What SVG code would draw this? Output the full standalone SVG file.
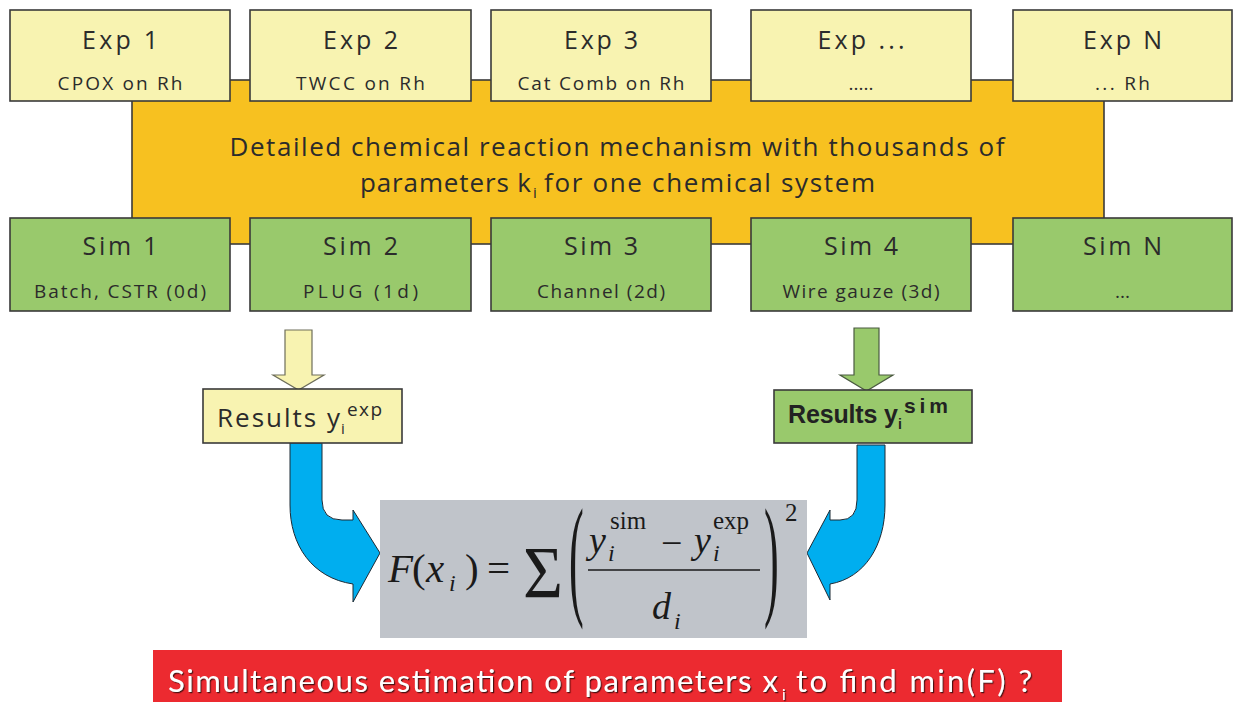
<svg xmlns="http://www.w3.org/2000/svg" width="1234" height="702" viewBox="0 0 1234 702">
<defs>
<style>
.exp{fill:#f8f3b1;stroke:#3a3a3a;stroke-width:1.6}
.sim{fill:#99c96c;stroke:#3a3a3a;stroke-width:1.6}
.t{font-family:"Open Sans","Noto Sans","Liberation Sans",sans-serif;fill:#2b2b2b;text-anchor:middle}
.title{font-size:25px}
.sub{font-size:19px}
.m{font-family:"Liberation Serif","Times New Roman",serif;fill:#1a1a1a}
.it{font-style:italic}
.blue{fill:#00aeef;stroke:#1d2a35;stroke-width:1}
</style>
<filter id="sh" x="-5%" y="-20%" width="110%" height="140%">
<feDropShadow dx="1.2" dy="1.2" stdDeviation="0.6" flood-color="#3a1010" flood-opacity="0.9"/>
</filter>
</defs>
<rect width="1234" height="702" fill="#ffffff"/>

<g id="mechanism">
<rect x="132" y="80" width="972" height="164" fill="#f7c120" stroke="#3a3a3a" stroke-width="1.6"/>
<text class="t" x="617" y="156" font-size="26" textLength="775" lengthAdjust="spacing">Detailed chemical reaction mechanism with thousands of</text>
<text class="t" x="360" y="192" font-size="26" style="text-anchor:start" textLength="171" lengthAdjust="spacing">parameters k</text>
<text class="t" x="533" y="198" font-size="15" style="text-anchor:start">i</text>
<text class="t" x="544" y="192" font-size="26" style="text-anchor:start" textLength="331" lengthAdjust="spacing">for one chemical system</text>
</g>

<g id="exp1"><rect class="exp" x="10" y="10" width="220" height="91"/>
<text class="t title" x="120" y="49" textLength="76" lengthAdjust="spacing">Exp 1</text>
<text class="t sub" x="120" y="90" textLength="125" lengthAdjust="spacing">CPOX on Rh</text></g>
<g id="exp2"><rect class="exp" x="250" y="10" width="221" height="91"/>
<text class="t title" x="360.5" y="49" textLength="75" lengthAdjust="spacing">Exp 2</text>
<text class="t sub" x="360.5" y="90" textLength="129" lengthAdjust="spacing">TWCC on Rh</text></g>
<g id="exp3"><rect class="exp" x="491" y="10" width="220" height="91"/>
<text class="t title" x="601" y="49" textLength="74" lengthAdjust="spacing">Exp 3</text>
<text class="t sub" x="601" y="90" textLength="167" lengthAdjust="spacing">Cat Comb on Rh</text></g>
<g id="expdots"><rect class="exp" x="751" y="10" width="220" height="91"/>
<text class="t title" x="861" y="49" textLength="87" lengthAdjust="spacing">Exp ...</text>
<text class="t sub" x="861" y="90">.....</text></g>
<g id="expN"><rect class="exp" x="1013" y="10" width="219" height="91"/>
<text class="t title" x="1122.5" y="49" textLength="79" lengthAdjust="spacing">Exp N</text>
<text class="t sub" x="1122.5" y="90" textLength="55" lengthAdjust="spacing">... Rh</text></g>

<g id="sim1"><rect class="sim" x="10" y="218" width="220" height="93"/>
<text class="t title" x="120" y="255" textLength="75" lengthAdjust="spacing">Sim 1</text>
<text class="t sub" x="120" y="298" textLength="172" lengthAdjust="spacing">Batch, CSTR (0d)</text></g>
<g id="sim2"><rect class="sim" x="250" y="218" width="221" height="93"/>
<text class="t title" x="360.5" y="255" textLength="75" lengthAdjust="spacing">Sim 2</text>
<text class="t sub" x="360.5" y="298" textLength="115" lengthAdjust="spacing">PLUG (1d)</text></g>
<g id="sim3"><rect class="sim" x="491" y="218" width="220" height="93"/>
<text class="t title" x="601" y="255" textLength="74" lengthAdjust="spacing">Sim 3</text>
<text class="t sub" x="601" y="298" textLength="128" lengthAdjust="spacing">Channel (2d)</text></g>
<g id="sim4"><rect class="sim" x="751" y="218" width="220" height="93"/>
<text class="t title" x="861" y="255" textLength="74" lengthAdjust="spacing">Sim 4</text>
<text class="t sub" x="861" y="298" textLength="157" lengthAdjust="spacing">Wire gauze (3d)</text></g>
<g id="simN"><rect class="sim" x="1013" y="218" width="219" height="93"/>
<text class="t title" x="1122.5" y="255" textLength="79" lengthAdjust="spacing">Sim N</text>
<text class="t sub" x="1122.5" y="298">...</text></g>

<g id="connectors">
<polygon points="285,330 312,330 312,375 324,375 298.5,390 273,375 285,375" fill="#f8f3b1" stroke="#6e6e5a" stroke-width="1.2"/>
<polygon points="854,328 879,328 879,375 893,375 866.5,391 840,375 854,375" fill="#99c96c" stroke="#4a5a40" stroke-width="1.2"/>
<path class="blue" d="M290,443 L322,443 L322,500 Q322,520 342,520 L353,520 L353,510 L380,553 L353,602 L353,584 C312,578 290,545 290,505 Z"/>
<path class="blue" d="M857,445 L885,445 L885,505 C885,545 865,578 830,584 L830,600 L807,553 L830,510 L830,520 L840,520 Q857,520 857,500 Z"/>
</g>

<g id="results_exp">
<rect x="203" y="389" width="199" height="54" fill="#f8f3b1" stroke="#3a3a3a" stroke-width="1.6"/>
<text class="t" x="217" y="427" font-size="26" style="text-anchor:start" textLength="123" lengthAdjust="spacing">Results y</text>
<text class="t" x="341" y="434" font-size="15" style="text-anchor:start">i</text>
<text class="t" x="347" y="416" font-size="19" style="text-anchor:start" textLength="35" lengthAdjust="spacing">exp</text>
</g>

<g id="results_sim">
<rect x="774" y="390" width="198" height="53" fill="#99c96c" stroke="#3a3a3a" stroke-width="1.6"/>
<text x="788" y="423" font-family="Liberation Sans, Arial, sans-serif" font-weight="bold" font-size="25" fill="#222" textLength="110" lengthAdjust="spacing">Results y</text>
<text x="898" y="429" font-family="Liberation Sans, Arial, sans-serif" font-weight="bold" font-size="14" fill="#222">i</text>
<text x="904" y="413" font-family="Liberation Sans, Arial, sans-serif" font-weight="bold" font-size="21" fill="#222" textLength="44" lengthAdjust="spacing">sim</text>
</g>

<g id="formula">
<rect x="380" y="500" width="427" height="138" fill="#c0c4ca"/>
<text class="m" x="388" y="582" font-size="41"><tspan class="it">F</tspan><tspan x="412">(</tspan><tspan class="it" x="426">x</tspan></text>
<text class="m it" x="449" y="591" font-size="24">i</text>
<text class="m" x="465" y="582" font-size="41">)</text>
<text class="m" x="487" y="582" font-size="41">=</text>
<text class="m" x="523" y="598" font-size="74" textLength="40" lengthAdjust="spacingAndGlyphs">Σ</text>
<text class="m" font-size="134" transform="translate(569,601) scale(0.33,1)">(</text>
<text class="m" font-size="134" transform="translate(764,601) scale(0.33,1)">)</text>
<text class="m it" x="589" y="553" font-size="38">y</text>
<text class="m it" x="608" y="561" font-size="24">i</text>
<text class="m" x="610" y="529" font-size="25">sim</text>
<text class="m" x="661" y="556" font-size="38">−</text>
<text class="m it" x="694" y="553" font-size="38">y</text>
<text class="m it" x="713" y="561" font-size="24">i</text>
<text class="m" x="713" y="529" font-size="25">exp</text>
<line x1="588" y1="570" x2="760" y2="570" stroke="#1a1a1a" stroke-width="1.6"/>
<text class="m it" x="652" y="619" font-size="38">d</text>
<text class="m it" x="674" y="629" font-size="24">i</text>
<text class="m" x="785" y="521" font-size="25">2</text>
</g>

<g id="conclusion">
<rect x="153" y="650" width="909" height="52" fill="#ec2a30"/>
<g filter="url(#sh)" font-family="Lato, Open Sans, Liberation Sans, sans-serif" fill="#ffffff">
<text x="168" y="692" font-size="31" textLength="610" lengthAdjust="spacing">Simultaneous estimation of parameters x</text>
<text x="782" y="700" font-size="15">i</text>
<text x="796" y="692" font-size="31" textLength="236" lengthAdjust="spacing">to find min(F) ?</text>
</g>
</g>
</svg>
